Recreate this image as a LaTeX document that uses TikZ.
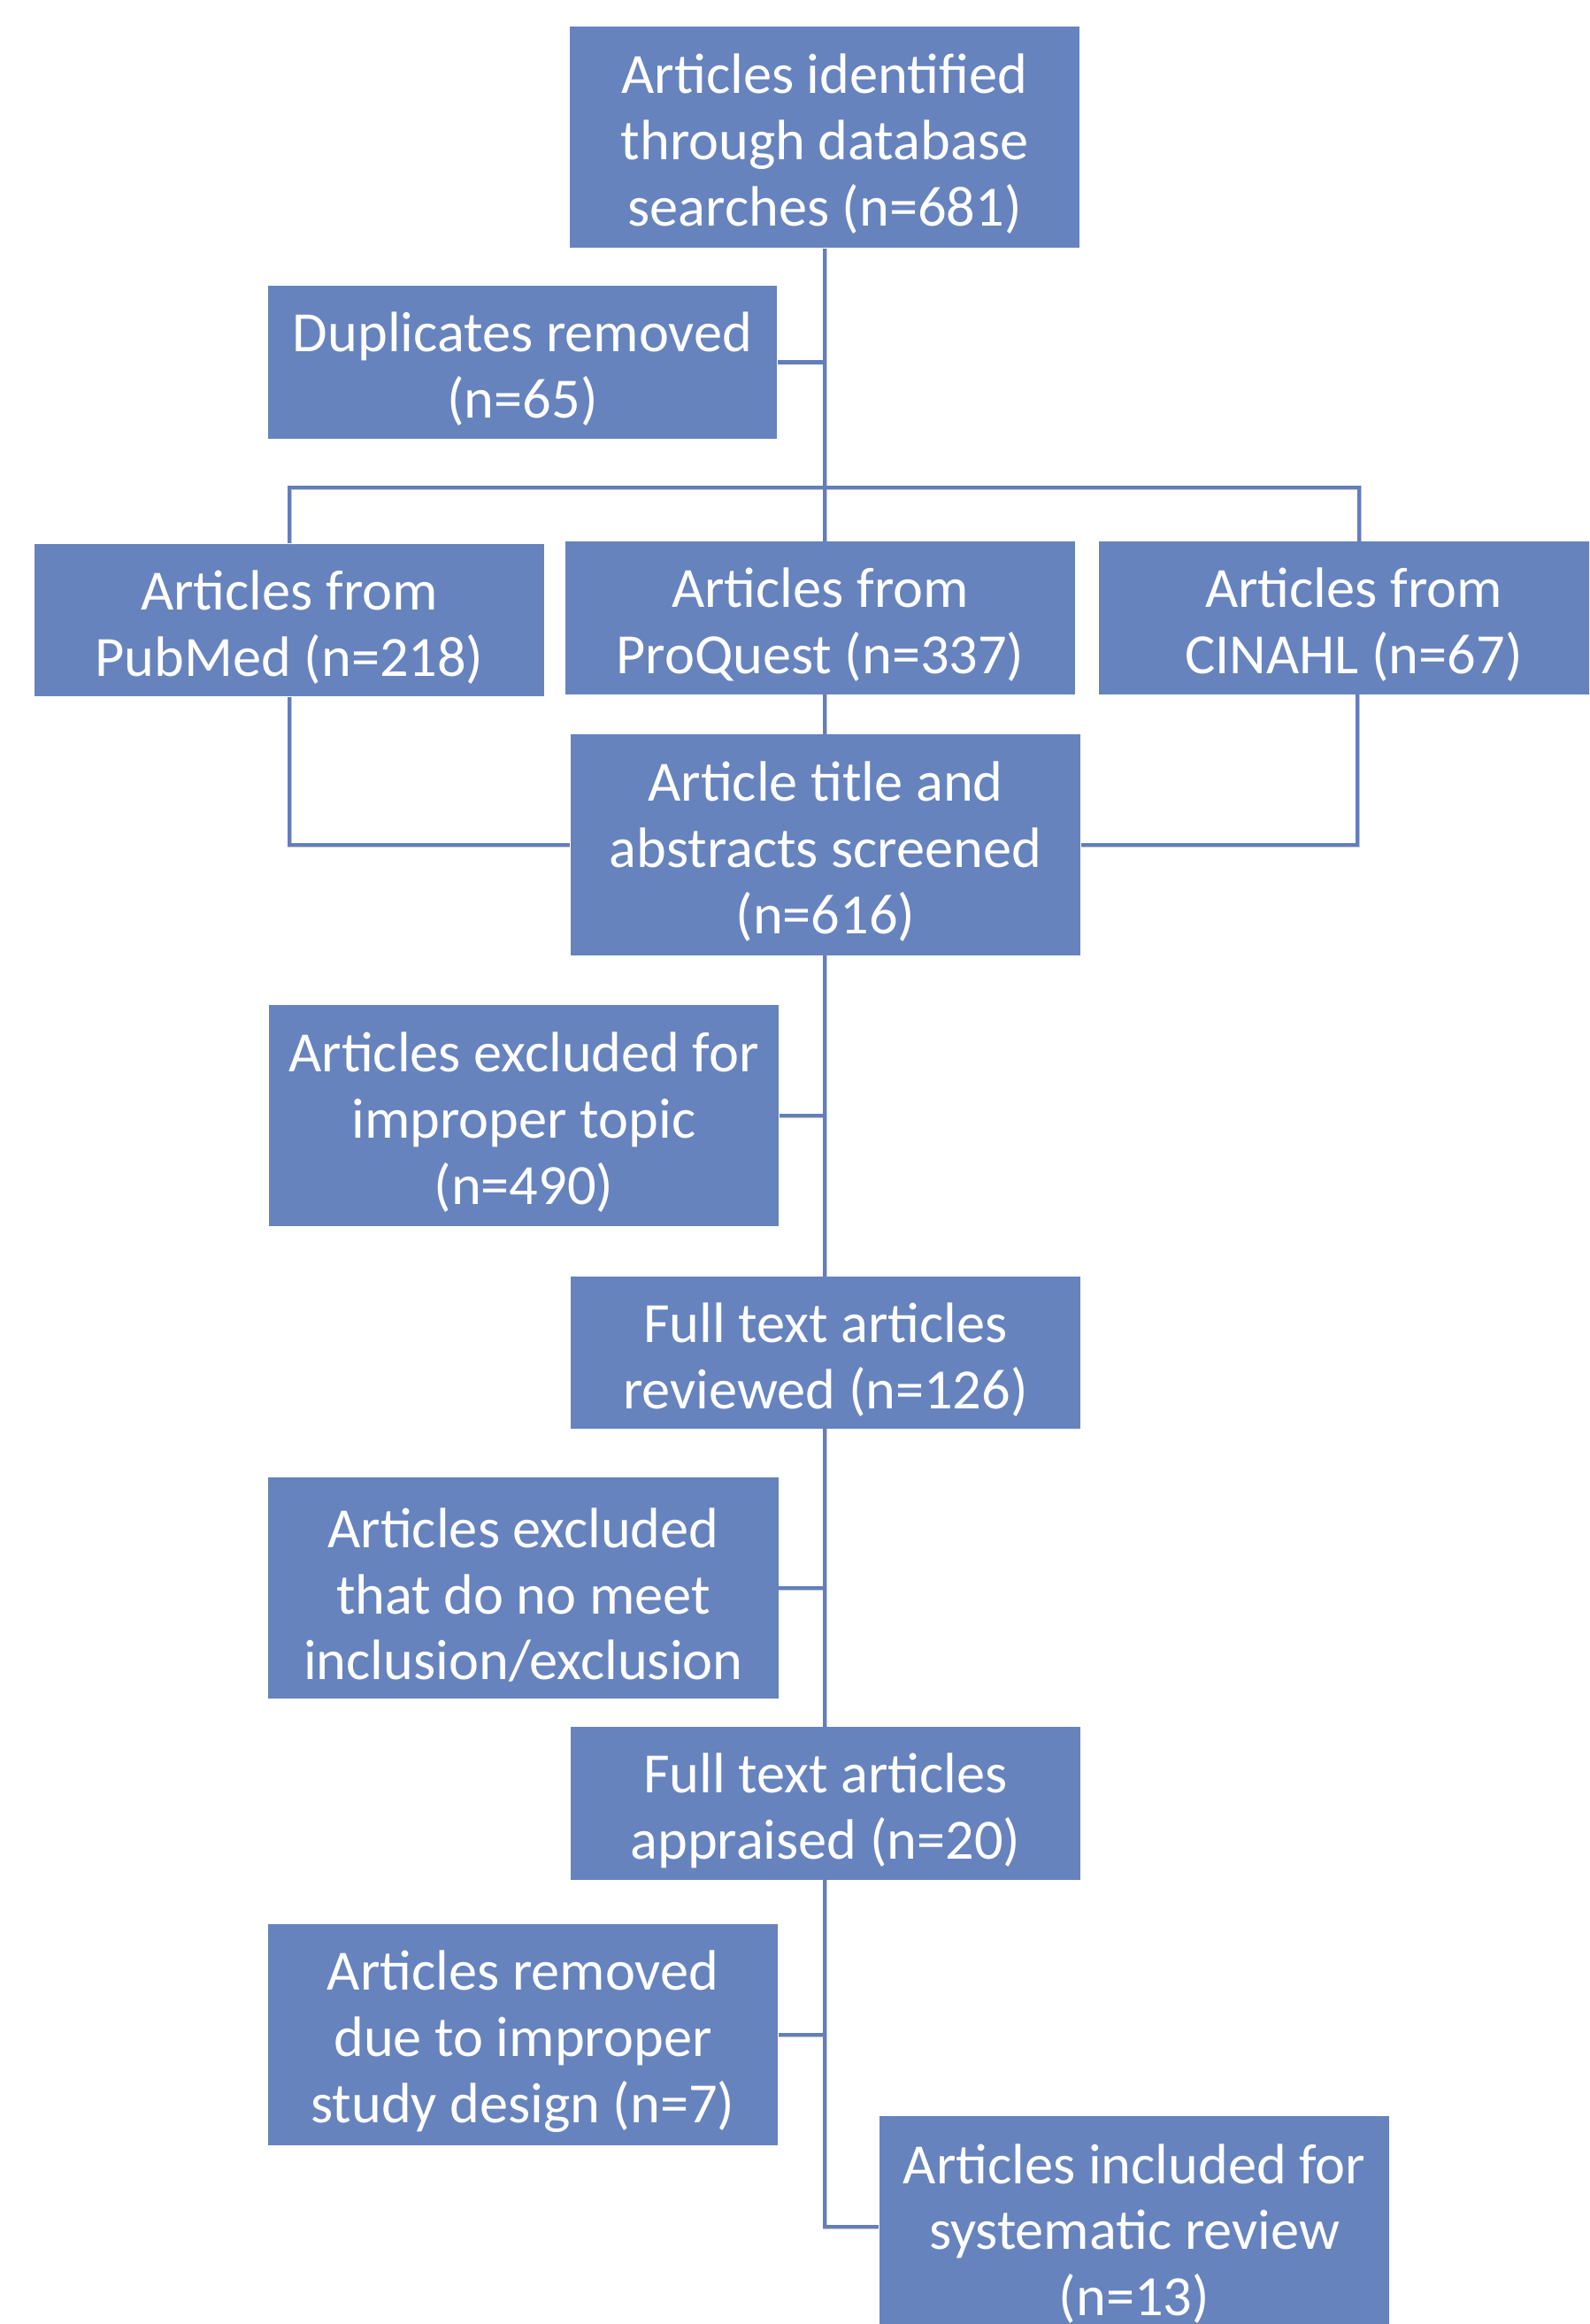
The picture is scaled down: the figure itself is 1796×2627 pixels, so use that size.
\documentclass[tikz,border=0pt]{standalone}
\usepackage{fontspec}
\setmainfont{Carlito}
\usetikzlibrary{calc}
\definecolor{boxblue}{RGB}{102,131,190}
\definecolor{lineblue}{RGB}{98,126,188}
\pgfdeclarelayer{bg}
\pgfsetlayers{bg,main}
\newcommand\myconns[1]{%
  \draw[#1] (top.south) -- (top.south |- inc.west) -- (inc.west);
  \draw[#1] (dup.east) -- (dup.east -| top.south);
  \draw[#1] (ex1.east) -- (ex1.east -| top.south);
  \draw[#1] (ex2.east) -- (ex2.east -| top.south);
  \draw[#1] (rem.east) -- (rem.east -| top.south);
  \draw[#1] (pub.north) -- (pub.north |- hl) -| ([xshift=0.06cm]cin.north);
  \draw[#1] (pub.south) |- (title.west);
  \draw[#1] ([xshift=0.04cm]cin.south) |- (title.east);
}
\begin{document}
\begin{tikzpicture}[x=0.01cm, y=-0.01cm,
  box/.style={fill=boxblue, draw=none, inner sep=0pt, minimum width=5.76cm},
  lbl/.style={text=white, inner sep=0pt, align=center, yshift=-0.08cm,
    font=\fontsize{18.3}{21.3}\selectfont},
  box2/.style={box, minimum height=1.72cm},
  box3/.style={box, minimum height=2.5cm},
  conn/.style={draw=lineblue, line width=0.045cm},
  connshadow/.style={draw=black!22, line width=0.05cm, xshift=0.02cm, yshift=-0.04cm}]
\useasboundingbox (0,0) rectangle (1796,2627);
\clip (0,0) rectangle (1796,2627);

\node[box3, label={[lbl]center:{Articles identified\\through database\\searches (n=681)}}] (top) at (932,155) {};
\node[box2, minimum width=5.75cm, label={[lbl]center:{Duplicates removed\\(n=65)}}] (dup) at (590.5,409.5) {};
\node[box2, label={[lbl]center:{Articles from\\PubMed (n=218)}}] (pub) at (327,701) {};
\node[box2, label={[lbl]center:{Articles from\\ProQuest (n=337)}}] (pro) at (927,698.5) {};
\node[box2, label={[lbl]center:{Articles from\\CINAHL (n=67)}}] (cin) at (1530,698.5) {};
\node[box3, label={[lbl]center:{Article title and\\abstracts screened\\(n=616)}}] (title) at (933,955) {};
\node[box3, label={[lbl]center:{Articles excluded for\\improper topic\\(n=490)}}] (ex1) at (592,1261) {};
\node[box2, label={[lbl]center:{Full text articles\\reviewed (n=126)}}] (ftr) at (933,1529) {};
\node[box3, label={[lbl]center:{Articles excluded\\that do no meet\\inclusion/exclusion}}] (ex2) at (591.5,1795) {};
\node[box2, label={[lbl]center:{Full text articles\\appraised (n=20)}}] (fta) at (933,2038.5) {};
\node[box3, label={[lbl]center:{Articles removed\\due to improper\\study design (n=7)}}] (rem) at (591,2300) {};
\node[box3, label={[lbl]center:{Articles included for\\systematic review\\(n=13)}}] (inc) at (1282,2517) {};
\coordinate (hl) at (0,551);

\begin{pgfonlayer}{bg}
  \fill[white] (0,0) rectangle (1796,2627);
  \myconns{connshadow}
  \myconns{conn}
\end{pgfonlayer}
\end{tikzpicture}
\end{document}
